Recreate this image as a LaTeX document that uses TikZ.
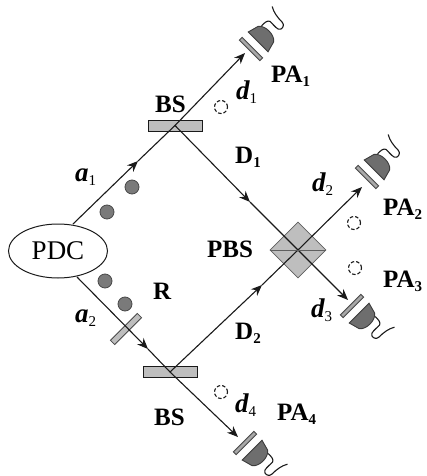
\documentclass[tikz,border=0pt]{standalone}
\usepackage{fontspec}
\setmainfont{Liberation Serif}
\usetikzlibrary{shapes.geometric,arrows.meta}
\definecolor{plategrey}{HTML}{BEBEBE}
\definecolor{domegrey}{HTML}{6E6E6E}
\definecolor{dotgrey}{HTML}{7A7A7A}
\definecolor{ink}{HTML}{1A1A1A}
\tikzset{
  beam/.style={draw=ink,line width=1.1pt},
  tip/.style={beam,-{Stealth[length=11pt,width=9pt]}},
  bsbox/.style={rectangle,draw=ink,fill=plategrey,line width=0.9pt,minimum width=54pt,minimum height=11pt,inner sep=0pt},
  pbsbox/.style={diamond,draw=ink!70,fill=plategrey,line width=0.8pt,minimum width=56pt,minimum height=56pt,inner sep=0pt,aspect=1},
  platebar/.style={rectangle,draw=ink!80,fill=plategrey,line width=0.8pt,minimum width=38pt,minimum height=6pt,inner sep=0pt},
  detbar/.style={rectangle,draw=ink!80,fill=domegrey!60,line width=0.9pt,minimum width=29pt,minimum height=4pt,inner sep=0pt},
  photon/.style={circle,draw=ink!80,fill=dotgrey,line width=0.8pt,minimum size=14pt,inner sep=0pt},
  vacuum/.style={circle,draw=ink,dash pattern=on 3.5pt off 2pt,line width=1.1pt,minimum size=13pt,inner sep=0pt},
  detector/.pic={
    \draw[fill=domegrey,draw=ink!85,line width=0.9pt]
      (10,14) -- (10,-14) -- (21,-11) .. controls (27,-7) and (27,7) .. (21,11) -- cycle;
    \draw[ink,line width=1.1pt,line join=round]
      (24,-9) .. controls (28,-9) and (32,-9) .. (33,-6)
      .. controls (33,0) and (32,6) .. (35,7)
      .. controls (38,8) and (41,6) .. (41,3)
      .. controls (41,-4) and (42,-10) .. (45,-15);
  }
}
\newcommand{\symlab}[4]{\node[anchor=base west,inner sep=0pt] (#1) at (#2) {\fontsize{27}{27}\selectfont\bfseries\itshape #3\raisebox{-4pt}{\fontsize{15}{15}\selectfont\mdseries\upshape #4}};}
\newcommand{\boldlab}[4]{\node[anchor=base west,inner sep=0pt] (#1) at (#2) {\fontsize{25}{25}\selectfont\bfseries #3\raisebox{-4pt}{\fontsize{15}{15}\selectfont #4}};}
\begin{document}
\begin{tikzpicture}[x=1pt,y=-1pt]
\useasboundingbox (0,0) rectangle (426,476);
\fill[white] (0,0) rectangle (426,476);
% optical elements
\node[bsbox] (bsa) at (175,125.5) {};
\node[bsbox] (bsb) at (170,372) {};
\node[pbsbox] (pbs) at (298,250) {};
\node[platebar,rotate=45] (rplate) at (126,329) {};
\node[draw=ink,fill=white,ellipse,line width=1pt,minimum width=99pt,minimum height=54pt,inner sep=0pt] (pdc) at (58,251) {\fontsize{27}{27}\selectfont PDC};
% detectors
\node[detbar,rotate=-45] (plata) at (251,49) {};
\node[detbar,rotate=-45] (platb) at (367,177) {};
\node[detbar,rotate=45] (platc) at (352,306) {};
\node[detbar,rotate=45] (platd) at (245,443) {};
\pic[rotate=45] at (plata) {detector};
\pic[rotate=45] at (platb) {detector};
\pic[rotate=-45] at (platc) {detector};
\pic[rotate=-45] at (platd) {detector};
% path coordinates
\coordinate (sa) at (73,224);
\coordinate (sb) at (77,277);
\coordinate (ta) at (138,161);
\coordinate (tb) at (148,349);
\coordinate (tda) at (250,202);
\coordinate (tdb) at (262,285);
\coordinate (ea) at (245,53);
\coordinate (eb) at (362,187);
\coordinate (ec) at (348,300);
\coordinate (ed) at (238,437);
% beams
\draw[tip] (sa) -- (ta);
\draw[beam] (ta) -- (bsa.center);
\draw[tip] (bsa.center) -- (ea);
\draw[tip] (sb) -- (tb);
\draw[beam] (tb) -- (bsb.center);
\draw[tip] (bsb.center) -- (ed);
\draw[tip] (bsa.center) -- (tda);
\draw[beam] (tda) -- (pbs.center);
\draw[tip] (pbs.center) -- (ec);
\draw[tip] (bsb.center) -- (tdb);
\draw[beam] (tdb) -- (pbs.center);
\draw[tip] (pbs.center) -- (eb);
\draw[ink!70,line width=1pt] (pbs.west) -- (pbs.east);
% photons
\node[photon] (pha) at (132,187) {};
\node[photon] (phb) at (107,212) {};
\node[photon] (phc) at (105,281) {};
\node[photon] (phd) at (125,304) {};
\node[vacuum] (vaa) at (221,107) {};
\node[vacuum] (vab) at (354,223) {};
\node[vacuum] (vac) at (355,268) {};
\node[vacuum] (vad) at (221,392) {};
% labels
\symlab{la}{75,181}{a}{1}
\symlab{lb}{75,322}{a}{2}
\symlab{da}{236,100}{d}{1}
\symlab{db}{312,191}{d}{2}
\symlab{dc}{311,317}{d}{3}
\symlab{dd}{235,412}{d}{4}
\boldlab{pa}{271,83}{PA}{1}
\boldlab{pb}{383,215}{PA}{2}
\boldlab{pc}{383,287}{PA}{3}
\boldlab{pd}{277,420}{PA}{4}
\boldlab{ua}{235,163}{D}{1}
\boldlab{ub}{235,339}{D}{2}
\boldlab{bt}{155,113}{BS}{}
\boldlab{bu}{154,425}{BS}{}
\boldlab{pl}{207,257}{PBS}{}
\boldlab{rl}{153,299}{R}{}
\end{tikzpicture}
\end{document}
